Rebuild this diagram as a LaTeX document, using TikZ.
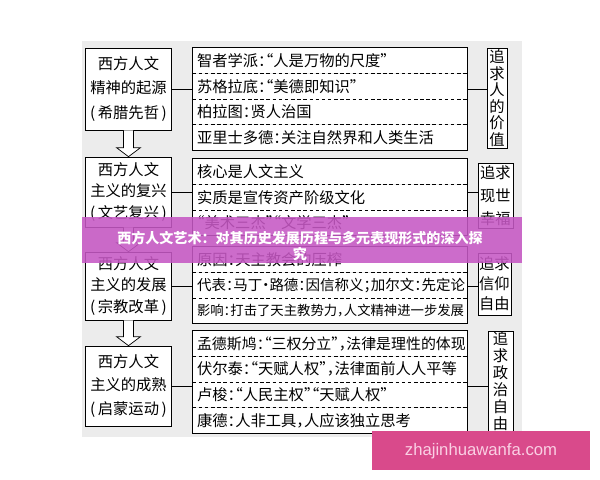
\documentclass[tikz,border=0pt]{standalone}
\usepackage{fontspec}
\setmainfont{Noto Sans CJK SC}[RawFeature=+halt]
\newfontfamily\bannerfont{Noto Sans CJK SC}
\newfontfamily\wmfont{Liberation Sans}
\usetikzlibrary{positioning,calc}

\definecolor{bggray}{RGB}{236,236,236}
\definecolor{bandpurple}{RGB}{198,88,196}
\definecolor{wmpink}{RGB}{217,74,139}
\definecolor{wmtext}{RGB}{250,208,228}

\tikzset{
  srcbox/.style={draw, fill=white, align=center, minimum width=1.72cm, inner sep=0pt},
  row/.style={fill=white, minimum width=5.48cm, minimum height=0.5cm, text width=5.32cm, align=left, inner sep=0pt, font=\fontsize{8.7}{10}\selectfont},
  goalbox/.style={draw, fill=white, align=center, inner sep=0pt},
  sep/.style={dash pattern=on 2pt off 1.5pt},
}

\begin{document}
\begin{tikzpicture}[x=0.02cm,y=-0.02cm]
\useasboundingbox (0,0) rectangle (600,480);
\fill[bggray] (82,41) rectangle (522,437);

% left column
\node[srcbox, minimum height=1.64cm, font=\fontsize{8.7}{14.2}\selectfont] (L1) at (128.5,89) {西方人文\\精神的起源\\(\,希腊先哲\,)};
\node[srcbox, minimum height=1.4cm, font=\fontsize{8.7}{12}\selectfont] (L2) at (128.5,192) {西方人文\\主义的复兴\\(\,文艺复兴\,)};
\node[srcbox, minimum height=1.36cm, font=\fontsize{8.7}{12.5}\selectfont] (L3) at (128.5,286) {西方人文\\主义的发展\\(\,宗教改革\,)};
\node[srcbox, minimum height=1.6cm, font=\fontsize{8.7}{13.6}\selectfont] (L4) at (128.5,386) {西方人文\\主义的成熟\\(\,启蒙运动\,)};

\foreach \a/\b in {L1/L2,L2/L3,L3/L4}
  \draw[fill=white] ($(\a.south)+(-0.1cm,0)$) -- ($(\b.north)+(-0.1cm,0.18cm)$) -- ($(\b.north)+(-0.24cm,0.18cm)$) -- (\b.north) -- ($(\b.north)+(0.24cm,0.18cm)$) -- ($(\b.north)+(0.1cm,0.18cm)$) -- ($(\a.south)+(0.1cm,0)$);

% middle column
\node[row] (M1a) at (330,60.5) {智者学派：“人是万物的尺度”};
\node[row, below=0pt of M1a] (M1b) {苏格拉底：“美德即知识”};
\node[row, below=0pt of M1b] (M1c) {柏拉图：贤人治国};
\node[row, below=0pt of M1c] (M1d) {亚里士多德：关注自然界和人类生活};
\draw (M1a.north west) rectangle (M1d.south east);
\foreach \r in {a,b,c}
  \draw[sep] (M1\r.south west) -- (M1\r.south east);

\node[row] (M2a) at (330,171.5) {核心是人文主义};
\node[row, below=0pt of M2a] (M2b) {实质是宣传资产阶级文化};
\node[row, below=0pt of M2b] (M2c) {“美术三杰”“文学三杰”};
\draw (M2a.north west) rectangle (M2c.south east);
\foreach \r in {a,b}
  \draw[sep] (M2\r.south west) -- (M2\r.south east);

\node[row] (M3a) at (330,259.5) {原因：天主教会的压榨};
\node[row, below=0pt of M3a, font=\fontsize{8.25}{10}\selectfont] (M3b) {代表：马丁·路德：因信称义；加尔文：先定论};
\node[row, below=0pt of M3b, font=\fontsize{7.6}{10}\selectfont] (M3c) {影响：打击了天主教势力，人文精神进一步发展};
\draw (M3a.north west) rectangle (M3c.south east);
\foreach \r in {a,b}
  \draw[sep] (M3\r.south west) -- (M3\r.south east);

\node[row, font=\fontsize{8.5}{10}\selectfont] (M4a) at (330,343.5) {孟德斯鸠：“三权分立”，法律是理性的体现};
\node[row, below=0pt of M4a] (M4b) {伏尔泰：“天赋人权”，法律面前人人平等};
\node[row, below=0pt of M4b] (M4c) {卢梭：“人民主权”“天赋人权”};
\node[row, below=0pt of M4c] (M4d) {康德：人非工具，人应该独立思考};
\draw (M4a.north west) rectangle (M4d.south east);
\foreach \r in {a,b,c}
  \draw[sep] (M4\r.south west) -- (M4\r.south east);

% right column
\node[goalbox, minimum width=0.4cm, minimum height=2cm, font=\fontsize{8.7}{9.4}\selectfont] (R1) at (497,98) {追\\求\\人\\的\\价\\值};
\node[goalbox, minimum width=0.7cm, minimum height=1.3cm, font=\fontsize{8.7}{13}\selectfont] (R2) at (495.5,195.5) {追求\\现世\\幸福};
\node[goalbox, minimum width=0.66cm, minimum height=1.24cm, font=\fontsize{8.7}{11.3}\selectfont] (R3) at (494.5,284) {追求\\信仰\\自由};
\node[goalbox, minimum width=0.5cm, minimum height=2cm, font=\fontsize{8.7}{9.6}\selectfont] (R4) at (500.5,381) {追\\求\\政\\治\\自\\由};

\draw (L1.east) -- (L1.east -| M1a.west);
\draw (L1.east -| M1a.east) -- (L1.east -| R1.west);
\draw (L2.east) -- (L2.east -| M2a.west);
\draw (L2.east -| M2a.east) -- (L2.east -| R2.west);
\draw (L3.east) -- (L3.east -| M3a.west);
\draw (L3.east -| M3a.east) -- (L3.east -| R3.west);
\draw (L4.east) -- (L4.east -| M4a.west);
\draw (L4.east -| M4a.east) -- (L4.east -| R4.west);

% overlays
\fill[bandpurple, opacity=0.88] (82,217) rectangle (522,263);
\node[text=white, align=center, font=\bannerfont\bfseries\fontsize{8}{9}\selectfont] (title) at (300,246) {西方人文艺术：对其历史发展历程与多元表现形式的深入探\\究};
\fill[wmpink] (372,431) rectangle (590,470);
\node[text=wmtext, font=\wmfont\fontsize{9.5}{11}\selectfont] (wm) at (481,451) {zhajinhuawanfa.com};
\end{tikzpicture}
\end{document}
